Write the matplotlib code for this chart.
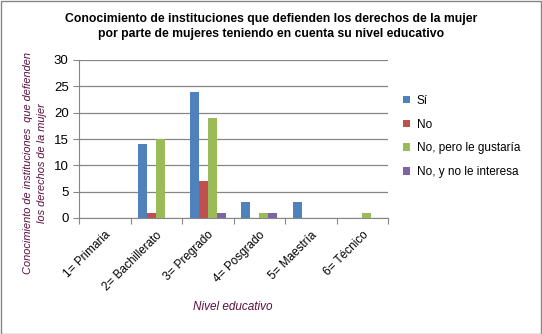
import matplotlib
matplotlib.use("Agg")
import matplotlib.pyplot as plt
import numpy as np

categories = ["1= Primaria", "2= Bachillerato", "3= Pregrado", "4= Posgrado", "5= Maestría", "6= Técnico"]
series_names = ["Sí", "No", "No, pero le gustaría", "No, y no le interesa"]
si = [0, 14, 24, 3, 3, 0]
no = [0, 1, 7, 0, 0, 0]
no_pero = [0, 15, 19, 1, 0, 1]
no_interesa = [0, 0, 1, 1, 0, 0]
colors = ["#4F81BD", "#C0504D", "#9BBB59", "#8064A2"]
yticks = [0, 5, 10, 15, 20, 25, 30]

plt.rcParams['font.family'] = ['Liberation Sans', 'DejaVu Sans']

W, H = 542, 334
fig = plt.figure(figsize=(W/100, H/100), dpi=100)
ax = fig.add_axes([79/W, 1 - 218/H, (388-79)/W, (218-60)/H])

x = np.arange(len(categories))
w = 0.175
for i, (vals, c, n) in enumerate(zip([si, no, no_pero, no_interesa], colors, series_names)):
    ax.bar(x + (i - 1.5) * w, vals, width=w, color=c, label=n, zorder=3)

ax.set_xlim(-0.5, len(categories) - 0.5)
ax.set_ylim(0, 30)
ax.set_yticks(yticks)
ax.yaxis.grid(True, color="#868686", linewidth=0.9, zorder=0)
ax.set_axisbelow(True)
for s in ["top", "right"]:
    ax.spines[s].set_visible(False)
ax.spines["left"].set_color("#868686")
ax.spines["bottom"].set_color("#868686")
ax.set_xticks(np.arange(len(categories) + 1) - 0.5, minor=False)
ax.set_xticklabels([])
ax.set_xticks(x, minor=True)
ax.set_xticklabels(categories, minor=True, rotation=45, ha="right", rotation_mode="anchor", fontsize=8.5)
ax.tick_params(axis="x", which="minor", length=0, pad=8)
ax.tick_params(axis="x", which="major", length=4, color="#868686", direction="out")
ax.tick_params(axis="y", length=4, color="#868686", labelsize=9.5)

fig.text(35/W, 1 - 163/H, "Conocimiento de instituciones  que defienden\nlos derechos de la mujer",
         color="#5B0F3F", fontsize=7.9, style="italic", rotation=90, ha="center", va="center",
         multialignment="center", linespacing=1.45)
fig.text(233/W, 1 - 307/H, "Nivel educativo", color="#5B0F3F", fontsize=8.5, style="italic",
         ha="center", va="center")

fig.text(271/W, 1 - 26.5/H,
         "Conocimiento de instituciones que defienden los derechos de la mujer\npor parte de mujeres teniendo en cuenta su nivel educativo",
         fontsize=8.8, fontweight="bold", ha="center", va="center", linespacing=1.4)

leg = fig.legend(loc="center left", bbox_to_anchor=(392/W, 1 - 136.5/H), frameon=False, fontsize=8.5,
                 handlelength=0.6, handleheight=0.6, labelspacing=1.0, handletextpad=0.6)

fig.patches.append(plt.Rectangle((0.001, 0.001), 0.997, 0.997, transform=fig.transFigure,
                                 fill=False, edgecolor="#868686", linewidth=1))
fig.savefig("out.png", dpi=100)
